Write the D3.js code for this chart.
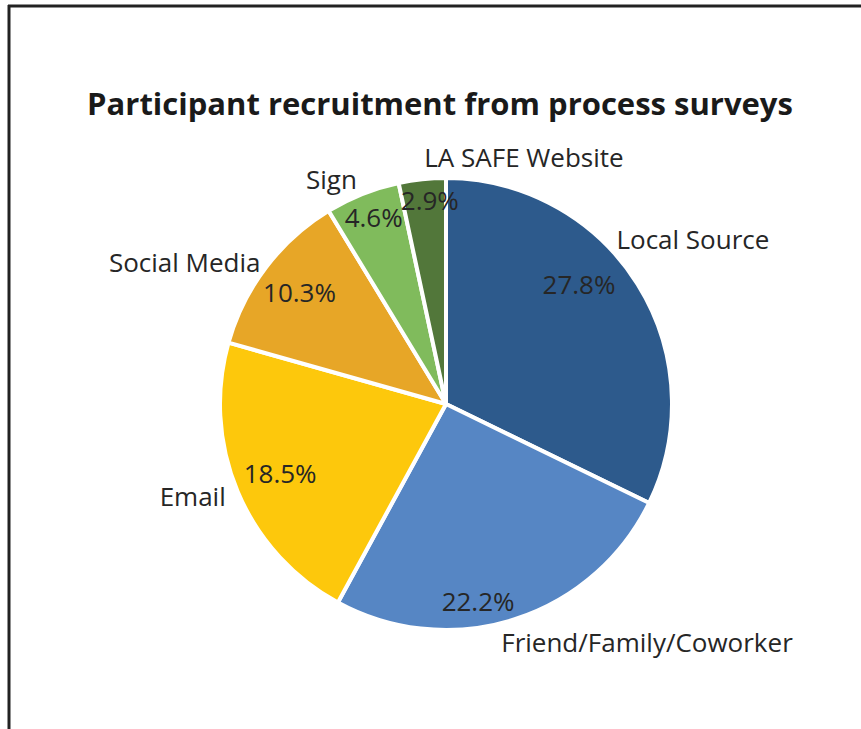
<!DOCTYPE html>
<html>
<head>
<meta charset="utf-8">
<script src="https://cdn.jsdelivr.net/npm/d3@7"></script>
<style>
  html, body { margin: 0; padding: 0; background: #fff; }
  svg { display: block; }
  text { font-family: "Open Sans", "Noto Sans", sans-serif; }
</style>
</head>
<body>
<svg id="chart" width="861" height="729"></svg>
<script>
// Recruitment sources, clockwise from 12 o'clock
const categories = ["Local Source", "Friend/Family/Coworker", "Email", "Social Media", "Sign", "LA SAFE Website"];
const shares = [27.8, 22.2, 18.5, 10.3, 4.6, 2.9];
const colors = ["#2d5a8c", "#5686c4", "#fdc80c", "#e7a627", "#80bb5c", "#52773a"];
const title = "Participant recruitment from process surveys";

const W = 861, H = 729;
const cx = 446, cy = 404, R = 226;

// Label placement tweaks for the best-fit layout:
// pda/da = rotation (degrees) of the percentage / name label, pr/lr = their radii
const labelLayout = {
  "Local Source":           { pda: -10, da: -12, pr: 179, lr: 237, anchor: "start" },
  "Friend/Family/Coworker": { pda: 8.5, da: 4.7, pr: 200, lr: 245, anchor: "start" },
  "Email":                  { pda: 0,   da: 0,   pr: 180, lr: 239, anchor: "end" },
  "Social Media":           { pda: 0,   da: 0,   pr: 184, lr: 233, anchor: "end" },
  "Sign":                   { pda: 0.5, da: 0,   pr: 200, lr: 241, anchor: "end" },
  "LA SAFE Website":        { pda: 1.5, da: 1,   pr: 204, lr: 247, anchor: "start" }
};

const svg = d3.select("#chart");

// Frame lines along the top and left edges
svg.append("line").attr("x1", 8).attr("x2", W).attr("y1", 6).attr("y2", 6)
  .attr("stroke", "#222").attr("stroke-width", 3);
svg.append("line").attr("x1", 9).attr("x2", 9).attr("y1", 5).attr("y2", H)
  .attr("stroke", "#222").attr("stroke-width", 3);

svg.append("text")
  .attr("x", 440).attr("y", 115)
  .attr("text-anchor", "middle")
  .attr("font-weight", 700)
  .attr("font-size", 31)
  .attr("fill", "#1a1a1a")
  .text(title);

const data = categories.map((c, i) => ({ name: c, value: shares[i], color: colors[i] }));

const pie = d3.pie().value(d => d.value).sort(null).startAngle(0).endAngle(2 * Math.PI);
const arc = d3.arc().innerRadius(0).outerRadius(R);
const arcs = pie(data);

const g = svg.append("g").attr("transform", `translate(${cx},${cy})`);

g.selectAll("path.slice")
  .data(arcs)
  .join("path")
  .attr("class", "slice")
  .attr("d", arc)
  .attr("fill", d => d.data.color)
  .attr("stroke", "#fff")
  .attr("stroke-width", 4)
  .attr("stroke-linejoin", "round");

function polar(angle, r) {
  return [r * Math.sin(angle), -r * Math.cos(angle)];
}

// Percentage labels inside the slices
g.selectAll("text.pct")
  .data(arcs)
  .join("text")
  .attr("class", "pct")
  .each(function (d) {
    const L = labelLayout[d.data.name];
    const a = (d.startAngle + d.endAngle) / 2 + L.pda * Math.PI / 180;
    const [x, y] = polar(a, L.pr);
    d3.select(this).attr("x", x).attr("y", y);
  })
  .attr("text-anchor", "middle")
  .attr("dy", "0.36em")
  .attr("font-size", 26)
  .attr("fill", "#262626")
  .text(d => d.data.value.toFixed(1) + "%");

// Category names outside the pie
g.selectAll("text.cat")
  .data(arcs)
  .join("text")
  .attr("class", "cat")
  .each(function (d) {
    const L = labelLayout[d.data.name];
    const a = (d.startAngle + d.endAngle) / 2 + L.da * Math.PI / 180;
    const [x, y] = polar(a, L.lr);
    d3.select(this).attr("x", x).attr("y", y).attr("text-anchor", L.anchor);
  })
  .attr("dy", "0.36em")
  .attr("font-size", 26)
  .attr("fill", "#262626")
  .text(d => d.data.name);
</script>
</body>
</html>
